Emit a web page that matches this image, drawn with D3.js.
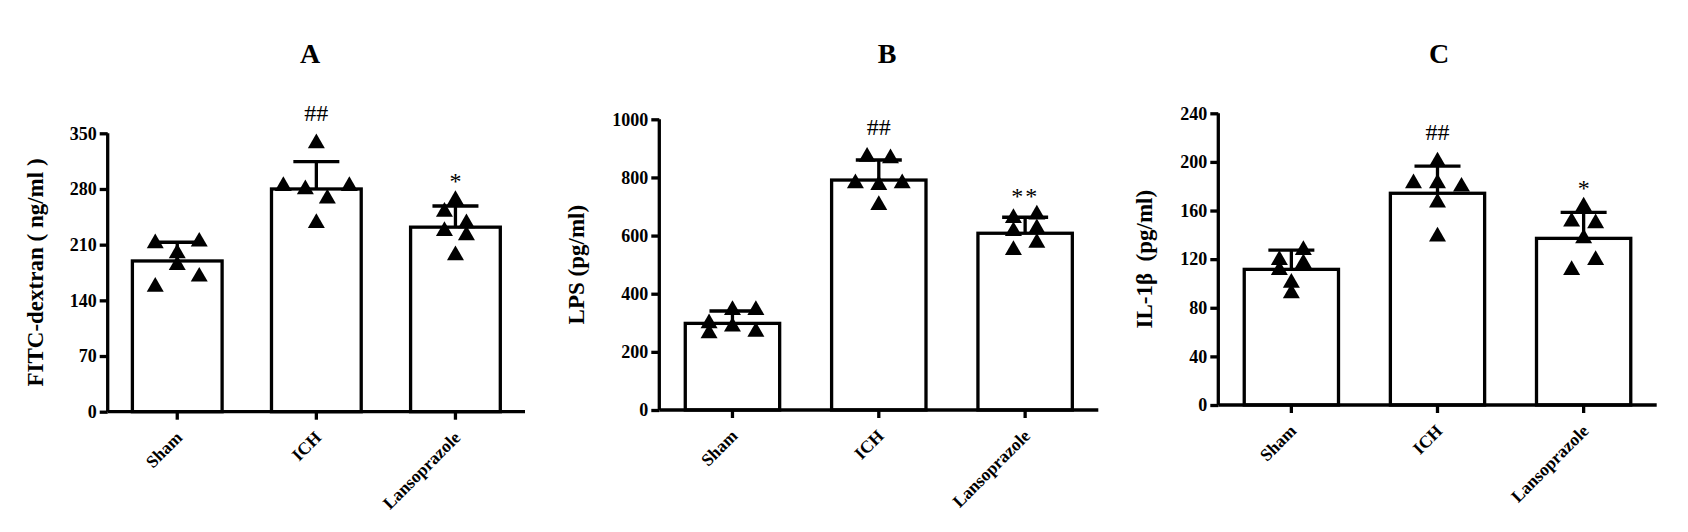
<!DOCTYPE html>
<html>
<head>
<meta charset="utf-8">
<script src="https://cdn.jsdelivr.net/npm/d3@7"></script>
<style>
  body { margin: 0; background: #fff; }
  text { font-family: "Liberation Serif", "Times New Roman", serif; fill: #000; }
</style>
</head>
<body>
<div id="chart"></div>
<script>
// groups on the x axis (same for all three panels)
const groups = ["Sham", "ICH", "Lansoprazole"];

// Panel A: FITC-dextran
const fitcMean = [189.5, 280, 232];
const fitcSD = [23.5, 34.3, 26.6];
const fitcPoints = [
  [211.7, 199, 184.4, 213.7, 169.7, 157],
  [283.7, 279.5, 268, 337.4, 283.7, 237],
  [266, 251.4, 227, 236.7, 221.8, 196.7]
];
const fitcSlots = [
  [-2, 0, 0, 2, 2, -2],
  [-3, -1, 1, 0, 3, 0],
  [0, -1, -1, 1, 1, 0]
];
const fitcTicks = [0, 70, 140, 210, 280, 350];
const fitcSig = ["", "##", "*"];

// Panel B: LPS
const lpsMean = [298, 791, 608];
const lpsSD = [42.5, 69, 55];
const lpsPoints = [
  [298, 264, 344, 286.5, 344, 269],
  [871, 866, 780, 774, 780, 705],
  [660, 615, 550, 672, 625, 575]
];
const lpsSlots = [
  [-2, -2, 0, 0, 2, 2],
  [-1, 1, -2, 0, 2, 0],
  [-1, -1, -1, 1, 1, 1]
];
const lpsTicks = [0, 200, 400, 600, 800, 1000];
const lpsSig = ["", "##", "**"];

// Panel C: IL-1beta
const ilMean = [111.6, 174.2, 137.1];
const ilSD = [15.9, 22.4, 21.4];
const ilPoints = [
  [119.3, 111, 100.6, 91.9, 127.5, 116.6],
  [200.2, 182.4, 182.4, 179.6, 166.5, 138.5],
  [163.2, 150.8, 149.5, 137.1, 119.3, 111]
];
const ilSlots = [
  [-1, -1, 0, 0, 1, 1],
  [0, -2, 0, 2, 0, 0],
  [0, -1, 1, 0, 1, -1]
];
const ilTicks = [0, 40, 80, 120, 160, 200, 240];
const ilSig = ["", "##", "*"];

const width = 1688, height = 532;

// layout of each panel (pixel frame) + which arrays it draws
const panels = [
  { title: "A", titleX: 310, yLabel: "FITC-dextran ( ng/ml )", labelX: 35,
    left: 107.7, right: 525, top: 133.3, bottom: 411.7, slot: 11,
    mean: fitcMean, sd: fitcSD, points: fitcPoints, slots: fitcSlots, ticks: fitcTicks, sig: fitcSig },
  { title: "B", titleX: 887, yLabel: "LPS (pg/ml)", labelX: 576,
    left: 659.3, right: 1098.3, top: 119.3, bottom: 410, slot: 11.7,
    mean: lpsMean, sd: lpsSD, points: lpsPoints, slots: lpsSlots, ticks: lpsTicks, sig: lpsSig },
  { title: "C", titleX: 1439, yLabel: "IL-1β\u00a0\u00a0(pg/ml)", labelX: 1144,
    left: 1218.3, right: 1656.7, top: 113.3, bottom: 405, slot: 12,
    mean: ilMean, sd: ilSD, points: ilPoints, slots: ilSlots, ticks: ilTicks, sig: ilSig }
];

const svg = d3.select("#chart")
  .append("svg")
  .attr("width", width)
  .attr("height", height)
  .attr("viewBox", [0, 0, width, height]);

svg.append("rect").attr("width", width).attr("height", height).attr("fill", "#fff");

const lw = 3.3;
const tri = d3.symbol().type(d3.symbolTriangle).size(125);

panels.forEach(p => {
  const g = svg.append("g");

  const x = d3.scaleBand()
    .domain(groups)
    .range([p.left, p.right])
    .paddingInner(0.355)
    .paddingOuter(0.1775);

  const y = d3.scaleLinear()
    .domain([0, d3.max(p.ticks)])
    .range([p.bottom, p.top]);

  // panel title
  g.append("text")
    .attr("x", p.titleX)
    .attr("y", 63)
    .attr("text-anchor", "middle")
    .attr("font-weight", "bold")
    .attr("font-size", 28)
    .text(p.title);

  // y axis title
  g.append("text")
    .attr("transform", `translate(${p.labelX},${(p.top + p.bottom) / 2}) rotate(-90)`)
    .attr("text-anchor", "middle")
    .attr("dy", "0.35em")
    .attr("font-weight", "bold")
    .attr("font-size", 23)
    .text(p.yLabel);

  const rows = groups.map((name, i) => ({
    name, mean: p.mean[i], sd: p.sd[i], sig: p.sig[i],
    pts: p.points[i].map((v, j) => ({ v, s: p.slots[i][j] }))
  }));

  // bars
  g.selectAll(".bar")
    .data(rows)
    .join("rect")
      .attr("class", "bar")
      .attr("x", d => x(d.name))
      .attr("y", d => y(d.mean))
      .attr("width", x.bandwidth())
      .attr("height", d => y(0) - y(d.mean))
      .attr("fill", "#fff")
      .attr("stroke", "#000")
      .attr("stroke-width", lw);

  // error bars (mean + SD only)
  const cx = d => x(d.name) + x.bandwidth() / 2;
  g.selectAll(".err")
    .data(rows)
    .join("path")
      .attr("class", "err")
      .attr("fill", "none")
      .attr("stroke", "#000")
      .attr("stroke-width", lw)
      .attr("d", d => `M${cx(d)},${y(d.mean)}V${y(d.mean + d.sd)}M${cx(d) - 23},${y(d.mean + d.sd)}H${cx(d) + 23}`);

  // axes
  const yAxis = g.append("g")
    .attr("transform", `translate(${p.left},0)`)
    .call(d3.axisLeft(y).tickValues(p.ticks).tickSize(8).tickPadding(3).tickFormat(d3.format("d")));
  const xAxis = g.append("g")
    .attr("transform", `translate(0,${p.bottom})`)
    .call(d3.axisBottom(x).tickSize(8).tickFormat(""));

  [yAxis, xAxis].forEach(a => {
    a.select(".domain").attr("stroke-width", lw).attr("stroke", "#000");
    a.selectAll(".tick line").attr("stroke-width", lw).attr("stroke", "#000");
  });
  yAxis.select(".domain").attr("d", `M0,${p.top}V${p.bottom}`);
  xAxis.select(".domain").attr("d", `M${p.left},0H${p.right}`);
  yAxis.selectAll(".tick text")
    .attr("font-family", "Liberation Serif")
    .attr("font-weight", "bold")
    .attr("font-size", 18)
    .attr("fill", "#000");

  // rotated group labels
  g.selectAll(".xlab")
    .data(rows)
    .join("text")
      .attr("class", "xlab")
      .attr("transform", d => `translate(${cx(d) + 6},${p.bottom + 27}) rotate(-45)`)
      .attr("text-anchor", "end")
      .attr("font-weight", "bold")
      .attr("font-size", 17.5)
      .text(d => d.name);

  // individual points
  g.selectAll(".pt")
    .data(rows.flatMap(d => d.pts.map(pt => ({ ...pt, c: cx(d) }))))
    .join("path")
      .attr("class", "pt")
      .attr("d", tri)
      .attr("fill", "#000")
      .attr("transform", d => `translate(${d.c + d.s * p.slot},${y(d.v)})`);

  // significance marks
  g.selectAll(".sig")
    .data(rows.filter(d => d.sig))
    .join("text")
      .attr("class", "sig")
      .attr("x", d => cx(d))
      .attr("y", d => {
        const top = y(Math.max(d.mean + d.sd, d3.max(d.pts, q => q.v)));
        return d.sig.includes("#") ? top - 22 : top - 11;
      })
      .attr("text-anchor", "middle")
      .attr("font-size", 24)
      .attr("letter-spacing", d => d.sig === "**" ? 2 : 0)
      .text(d => d.sig);
});
</script>
</body>
</html>
